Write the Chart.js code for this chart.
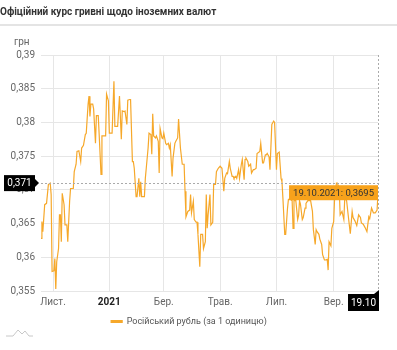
<!DOCTYPE html>
<html>
<head>
<meta charset="utf-8">
<script src="https://cdn.jsdelivr.net/npm/chart.js@4"></script>
<style>
  html, body { margin: 0; padding: 0; background: #fff; }
  #wrap { width: 397px; height: 350px; position: relative; }
</style>
</head>
<body>
<div id="wrap"><canvas id="myChart" width="397" height="350"></canvas></div>
<script>
// курс російського рубля, грн за 1 одиницю
const startDate = "2020-10-19";
const dates = [
  "2020-10-19","2020-10-20","2020-10-21","2020-10-23","2020-10-25","2020-10-27","2020-10-29","2020-10-30","2020-10-31",
  "2020-11-02","2020-11-03","2020-11-04","2020-11-05","2020-11-07","2020-11-08","2020-11-09","2020-11-10","2020-11-11",
  "2020-11-13","2020-11-14","2020-11-16","2020-11-17","2020-11-19","2020-11-20","2020-11-23","2020-11-24","2020-11-26",
  "2020-11-27","2020-11-29","2020-12-01","2020-12-02","2020-12-04","2020-12-06","2020-12-07","2020-12-09","2020-12-10",
  "2020-12-11","2020-12-12","2020-12-14","2020-12-15","2020-12-17","2020-12-18","2020-12-20","2020-12-21","2020-12-23",
  "2020-12-24","2020-12-26","2020-12-28","2020-12-29","2020-12-31","2021-01-01","2021-01-04","2021-01-06","2021-01-07",
  "2021-01-10","2021-01-12","2021-01-14","2021-01-15","2021-01-17","2021-01-18","2021-01-20","2021-01-21","2021-01-23",
  "2021-01-24","2021-01-26","2021-01-27","2021-01-28","2021-01-30","2021-01-31","2021-02-02","2021-02-03","2021-02-04",
  "2021-02-05","2021-02-08","2021-02-09","2021-02-10","2021-02-12","2021-02-13","2021-02-15","2021-02-16","2021-02-17",
  "2021-02-18","2021-02-20","2021-02-21","2021-02-23","2021-02-24","2021-02-25","2021-02-27","2021-02-28","2021-03-01",
  "2021-03-03","2021-03-04","2021-03-06","2021-03-07","2021-03-08","2021-03-10","2021-03-11","2021-03-13","2021-03-14",
  "2021-03-16","2021-03-17","2021-03-19","2021-03-21","2021-03-22","2021-03-23","2021-03-24","2021-03-25","2021-03-27",
  "2021-03-29","2021-03-30","2021-03-31","2021-04-02","2021-04-03","2021-04-05","2021-04-06","2021-04-07","2021-04-09",
  "2021-04-10","2021-04-12","2021-04-13","2021-04-15","2021-04-16","2021-04-17","2021-04-18","2021-04-20","2021-04-21",
  "2021-04-23","2021-04-24","2021-04-26","2021-04-27","2021-04-29","2021-05-01","2021-05-03","2021-05-05","2021-05-06",
  "2021-05-08","2021-05-09","2021-05-11","2021-05-12","2021-05-14","2021-05-15","2021-05-16","2021-05-18","2021-05-19",
  "2021-05-21","2021-05-22","2021-05-24","2021-05-25","2021-05-27","2021-05-28","2021-05-29","2021-05-31","2021-06-01",
  "2021-06-03","2021-06-04","2021-06-06","2021-06-07","2021-06-09","2021-06-10","2021-06-11","2021-06-13","2021-06-14",
  "2021-06-16","2021-06-17","2021-06-19","2021-06-20","2021-06-21","2021-06-23","2021-06-24","2021-06-26","2021-06-28",
  "2021-06-29","2021-07-01","2021-07-02","2021-07-04","2021-07-06","2021-07-07","2021-07-08","2021-07-10","2021-07-11",
  "2021-07-13","2021-07-14","2021-07-16","2021-07-18","2021-07-19","2021-07-20","2021-07-22","2021-07-24","2021-07-25",
  "2021-07-26","2021-07-27","2021-07-29","2021-07-30","2021-08-01","2021-08-02","2021-08-04","2021-08-05","2021-08-07",
  "2021-08-09","2021-08-10","2021-08-12","2021-08-13","2021-08-14","2021-08-16","2021-08-17","2021-08-19","2021-08-20",
  "2021-08-22","2021-08-23","2021-08-25","2021-08-26","2021-08-27","2021-08-29","2021-08-30","2021-09-01","2021-09-02",
  "2021-09-04","2021-09-05","2021-09-07","2021-09-08","2021-09-10","2021-09-12","2021-09-13","2021-09-15","2021-09-17",
  "2021-09-19","2021-09-21","2021-09-22","2021-09-24","2021-09-26","2021-09-28","2021-09-30","2021-10-01","2021-10-03",
  "2021-10-05","2021-10-07","2021-10-09","2021-10-10","2021-10-12","2021-10-14","2021-10-16","2021-10-18","2021-10-19"
];
const rubValues = [
  0.3628,0.3653,0.3638,0.3678,0.3680,0.3708,0.3710,0.3693,0.3579,
  0.3580,0.3598,0.3553,0.3593,0.3613,0.3663,0.3663,0.3623,0.3695,
  0.3678,0.3648,0.3648,0.3623,0.3683,0.3702,0.3702,0.3727,0.3738,
  0.3757,0.3758,0.3742,0.3762,0.3766,0.3782,0.3784,0.3827,0.3839,
  0.3809,0.3827,0.3827,0.3820,0.3769,0.3810,0.3810,0.3782,0.3723,
  0.3780,0.3780,0.3780,0.3842,0.3832,0.3784,0.3784,0.3861,0.3794,
  0.3794,0.3839,0.3775,0.3817,0.3816,0.3817,0.3797,0.3833,0.3834,
  0.3834,0.3742,0.3742,0.3732,0.3690,0.3690,0.3717,0.3690,0.3712,
  0.3690,0.3690,0.3717,0.3732,0.3762,0.3784,0.3782,0.3753,0.3813,
  0.3780,0.3777,0.3780,0.3772,0.3725,0.3791,0.3777,0.3776,0.3784,
  0.3769,0.3767,0.3769,0.3762,0.3767,0.3720,0.3747,0.3769,0.3772,
  0.3777,0.3805,0.3762,0.3738,0.3738,0.3738,0.3698,0.3660,0.3668,
  0.3670,0.3693,0.3666,0.3683,0.3656,0.3652,0.3652,0.3634,0.3586,
  0.3634,0.3634,0.3613,0.3623,0.3693,0.3643,0.3663,0.3693,0.3648,
  0.3652,0.3708,0.3708,0.3727,0.3732,0.3735,0.3732,0.3698,0.3717,
  0.3725,0.3724,0.3742,0.3732,0.3720,0.3720,0.3717,0.3720,0.3717,
  0.3730,0.3717,0.3738,0.3745,0.3715,0.3745,0.3747,0.3742,0.3735,
  0.3738,0.3725,0.3730,0.3730,0.3732,0.3754,0.3754,0.3757,0.3769,
  0.3740,0.3740,0.3752,0.3752,0.3754,0.3749,0.3730,0.3797,0.3802,
  0.3800,0.3730,0.3754,0.3756,0.3717,0.3712,0.3688,0.3634,0.3634,
  0.3673,0.3686,0.3686,0.3684,0.3643,0.3684,0.3684,0.3656,0.3662,
  0.3684,0.3679,0.3656,0.3659,0.3673,0.3680,0.3684,0.3684,0.3684,
  0.3668,0.3641,0.3619,0.3641,0.3638,0.3634,0.3627,0.3619,0.3604,
  0.3596,0.3596,0.3597,0.3581,0.3623,0.3617,0.3643,0.3653,0.3688,
  0.3710,0.3710,0.3702,0.3663,0.3668,0.3656,0.3688,0.3684,0.3659,
  0.3635,0.3668,0.3659,0.3654,0.3647,0.3663,0.3659,0.3651,0.3649,
  0.3644,0.3638,0.3660,0.3657,0.3673,0.3666,0.3666,0.3670,0.3695
];
const monthTicks = ["2020-11-01","2021-01-01","2021-03-01","2021-05-01","2021-07-01","2021-09-01"];
const monthLabels = ["Лист.","2021","Бер.","Трав.","Лип.","Вер."];
const yTicks = [0.355, 0.36, 0.365, 0.37, 0.375, 0.38, 0.385, 0.39];
const crossValue = 0.371;
const seriesName = "Російський рубль (за 1 одиницю)";

const orange = "#f6a82a";
const dayMs = 24 * 3600 * 1000;
function dayIndex(s) {
  return Math.round((Date.parse(s) - Date.parse(startDate)) / dayMs);
}
function fmt(v) { return String(v).replace(".", ","); }

const points = dates.map((d, i) => ({ x: dayIndex(d), y: rubValues[i] }));
const tickDays = monthTicks.map(dayIndex);

// перехрестя, мітки і підказка для останньої точки
const overlay = {
  id: "overlay",
  afterDraw(chart) {
    const ctx = chart.ctx;
    const xs = chart.scales.x, ys = chart.scales.y;
    const area = chart.chartArea;
    const last = points[points.length - 1];
    const lastDate = dates[dates.length - 1].split("-");
    const px = xs.getPixelForValue(last.x);
    const py = ys.getPixelForValue(last.y);
    const cy = ys.getPixelForValue(crossValue);

    ctx.save();
    // лінія під заголовком
    ctx.fillStyle = "#e4e4e4";
    ctx.fillRect(0, 24, 397, 2);

    ctx.font = "10px Roboto";
    ctx.fillStyle = "#666";
    ctx.textAlign = "left";
    ctx.textBaseline = "middle";
    ctx.fillText("грн", 14, 42);

    ctx.strokeStyle = "#aaa";
    ctx.lineWidth = 1;
    ctx.setLineDash([2, 2]);
    ctx.beginPath();
    ctx.moveTo(area.left, Math.round(cy) + 0.5);
    ctx.lineTo(area.right, Math.round(cy) + 0.5);
    ctx.moveTo(Math.round(px) + 0.5, area.top);
    ctx.lineTo(Math.round(px) + 0.5, area.bottom);
    ctx.stroke();
    ctx.setLineDash([]);

    // мітка по осі Y
    ctx.fillStyle = "#000";
    ctx.fillRect(4, cy - 8, 31, 16);
    ctx.beginPath();
    ctx.moveTo(35, cy - 4);
    ctx.lineTo(39, cy);
    ctx.lineTo(35, cy + 4);
    ctx.fill();
    ctx.fillStyle = "#fff";
    ctx.font = "10px Roboto";
    ctx.textAlign = "center";
    ctx.fillText(fmt(crossValue), 19.5, cy + 0.5);

    // мітка по осі X
    ctx.fillStyle = "#000";
    ctx.fillRect(px - 30, area.bottom + 3, 31, 17);
    ctx.beginPath();
    ctx.moveTo(px - 4, area.bottom + 3);
    ctx.lineTo(px + 1, area.bottom - 1);
    ctx.lineTo(px + 1, area.bottom + 3);
    ctx.fill();
    ctx.fillStyle = "#fff";
    ctx.fillText(lastDate[2] + "." + lastDate[1], px - 14.5, area.bottom + 12);

    // підказка
    const tip = lastDate[2] + "." + lastDate[1] + "." + lastDate[0] + ": " + fmt(last.y);
    ctx.font = "9.5px Roboto";
    const w = ctx.measureText(tip).width + 8;
    ctx.fillStyle = "#f7a21b";
    ctx.fillRect(px - w, py - 8, w, 15);
    ctx.fillStyle = "#333";
    ctx.textAlign = "left";
    ctx.fillText(tip, px - w + 4, py);

    // маленький логотип внизу
    ctx.strokeStyle = "#c8c8c8";
    ctx.lineWidth = 1;
    ctx.beginPath();
    ctx.moveTo(6, 336);
    ctx.lineTo(13, 336);
    ctx.lineTo(18, 330);
    ctx.lineTo(22, 334);
    ctx.lineTo(25, 331);
    ctx.lineTo(29, 336);
    ctx.lineTo(33, 336);
    ctx.stroke();
    ctx.restore();
  }
};

const ctx = document.getElementById("myChart").getContext("2d");
const myChart = new Chart(ctx, {
  type: "line",
  data: {
    datasets: [{
      label: seriesName,
      data: points,
      borderColor: orange,
      backgroundColor: orange,
      borderWidth: 1.2,
      pointRadius: 0,
      tension: 0
    }]
  },
  options: {
    responsive: false,
    animation: false,
    events: [],
    layout: { padding: { top: 0, right: 19, bottom: 14, left: 0 } },
    scales: {
      x: {
        type: "linear",
        min: 0,
        max: dayIndex(dates[dates.length - 1]),
        afterBuildTicks(scale) { scale.ticks = tickDays.map(v => ({ value: v })); },
        afterFit(scale) { scale.height = 18; },
        ticks: {
          autoSkip: false,
          maxRotation: 0,
          padding: 5,
          color(c) { return c.tick && c.tick.value === tickDays[1] ? "#222" : "#666"; },
          font(c) {
            return c.tick && c.tick.value === tickDays[1]
              ? { family: "Roboto", size: 10, weight: "bold" }
              : { family: "Roboto", size: 10 };
          },
          callback(v) { return monthLabels[tickDays.indexOf(v)]; }
        },
        grid: { color: "#e6e6e6", drawTicks: false },
        border: { display: false }
      },
      y: {
        min: 0.355,
        max: 0.39,
        afterBuildTicks(scale) { scale.ticks = yTicks.map(v => ({ value: v })); },
        afterFit(scale) { scale.width = 41; },
        ticks: {
          padding: 6,
          color: "#666",
          font: { family: "Roboto", size: 10 },
          callback(v) { return fmt(+v.toFixed(3)); }
        },
        grid: { color: "#e6e6e6", drawTicks: false },
        border: { display: false }
      }
    },
    plugins: {
      title: {
        display: true,
        text: "Офіційний курс гривні щодо іноземних валют",
        align: "start",
        color: "#333",
        font: { family: "Roboto", size: 10, weight: "bold" },
        padding: { top: 6, bottom: 37 }
      },
      legend: {
        position: "bottom",
        labels: {
          boxWidth: 11,
          boxHeight: 2,
          color: "#555",
          font: { family: "Roboto", size: 9 },
          padding: 8
        }
      },
      tooltip: { enabled: false }
    }
  },
  plugins: [overlay]
});
</script>
</body>
</html>
